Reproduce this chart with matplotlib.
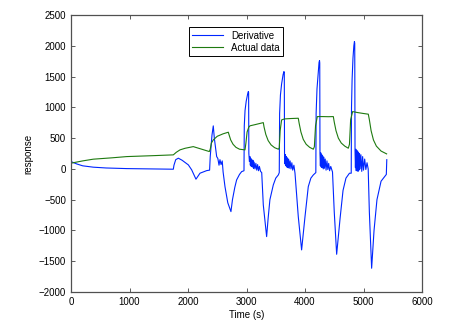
import matplotlib
matplotlib.use("Agg")
import matplotlib.pyplot as plt

plt.rcParams['font.family'] = ['Liberation Sans', 'DejaVu Sans']

# values (time in s, response)
actual_t = [0, 200, 381, 700, 952, 1400, 1749, 1800, 1863, 1950, 2090, 2200, 2364,
            2380, 2400, 2432, 2500, 2600, 2689, 2700, 2730, 2770, 2820, 2880, 2974,
            2990, 3010, 3040, 3060, 3150, 3287, 3300, 3330, 3370, 3420, 3480, 3544,
            3560, 3575, 3600, 3650, 3750, 3885, 3900, 3930, 3970, 4020, 4080, 4142,
            4160, 4180, 4210, 4300, 4400, 4484, 4500, 4530, 4570, 4620, 4680, 4740,
            4760, 4780, 4814, 4900, 5000, 5082, 5100, 5130, 5170, 5220, 5300, 5395]
actual_v = [93, 130, 158, 180, 200, 215, 228, 270, 309, 335, 362, 330, 282,
            320, 420, 471, 530, 570, 596, 560, 470, 400, 350, 320, 309,
            420, 600, 680, 700, 720, 752, 680, 560, 460, 390, 345, 320,
            340, 620, 796, 812, 818, 823, 740, 600, 480, 400, 350, 320,
            360, 700, 850, 850, 848, 850, 760, 620, 500, 420, 370, 336,
            400, 800, 931, 915, 900, 889, 800, 620, 470, 370, 290, 244]

deriv_t = [0, 100, 200, 381, 600, 952, 1300, 1749, 1760, 1790, 1835, 1900, 2006,
           2063, 2136, 2205, 2319, 2369,
           2380, 2410, 2432, 2450, 2490, 2510, 2530, 2546, 2565, 2585, 2600, 2632,
           2680, 2734, 2760, 2800, 2831, 2880, 2917, 2957,
           2962, 2975, 2995, 3020, 3031, 3036, 3040, 3050, 3058, 3066, 3074, 3082,
           3090, 3100, 3110, 3120, 3130, 3145, 3160, 3175, 3190, 3205, 3220, 3240,
           3260, 3287, 3344, 3370, 3400, 3458, 3500, 3544, 3560,
           3566, 3580, 3600, 3625, 3640, 3646, 3650, 3658, 3666, 3674, 3682, 3690,
           3700, 3710, 3720, 3730, 3745, 3760, 3775, 3790, 3810, 3829, 3885, 3942,
           4000, 4056, 4100, 4142, 4185,
           4190, 4205, 4225, 4240, 4248, 4252, 4256, 4263, 4270, 4278, 4286, 4294,
           4302, 4312, 4322, 4332, 4345, 4360, 4375, 4390, 4405, 4420, 4440, 4470,
           4500, 4541, 4600, 4650, 4700, 4760, 4790,
           4795, 4805, 4820, 4835, 4845, 4850, 4855, 4862, 4869, 4876, 4883, 4890,
           4898, 4906, 4914, 4922, 4932, 4942, 4955, 4970, 4985, 5000, 5020, 5040,
           5060, 5080, 5100, 5139, 5180, 5230, 5300, 5390, 5398]
deriv_v = [119, 80, 50, 28, 15, 5, 0, -5, 60, 150, 174, 140, 65,
           -16, -167, -70, -28, -20,
           200, 550, 699, 500, 200, 170, 60, 150, 70, 130, -50, -288,
           -550, -694, -500, -300, -179, -90, -44, -30,
           700, 950, 1100, 1220, 1256, 1240, 250, 120, 200, 60, 170, 40,
           150, 30, 140, 10, 110, 0, 90, -20, 70, -30, 40, -40,
           -60, -585, -1100, -800, -500, -260, -150, -98, -60,
           900, 1200, 1380, 1530, 1581, 1560, 250, 80, 230, 50, 200, 30,
           180, 20, 160, 10, 130, 0, 100, -20, 60, -70, -775, -1316,
           -775, -288, -150, -98, -60,
           900, 1300, 1550, 1730, 1760, 1720, 250, 50, 260, 30, 230, 20,
           210, 0, 190, 10, 160, -20, 130, -10, 90, -30, 40, -50,
           -700, -1387, -800, -350, -150, -70, -70,
           1000, 1450, 1800, 2000, 2069, 2040, 300, 20, 320, -30, 300, 0,
           290, -40, 270, -20, 250, 0, 230, -40, 200, -20, 160, -10,
           100, 0, -700, -1614, -1000, -500, -200, -90, 150]

fig = plt.figure(figsize=(4.59, 3.33), dpi=100)
ax = fig.add_axes([0.1547, 0.1231, 0.7647, 0.8318])

ax.plot(deriv_t, deriv_v, color='#0026ff', lw=0.8, label='Derivative')
ax.plot(actual_t, actual_v, color='#1e7a10', lw=0.8, label='Actual data')

ax.set_xlim(0, 6000)
ax.set_ylim(-2000, 2500)
ax.set_xticks(range(0, 6001, 1000))
ax.set_yticks(range(-2000, 2501, 500))
ax.tick_params(direction='in', top=True, right=True, labelsize=7, length=3,
               width=0.6, color='#404040')
for s in ax.spines.values():
    s.set_color('#505050')
    s.set_linewidth(0.9)

ax.set_xlabel('Time (s)', fontsize=7, labelpad=2)
ax.set_ylabel('response', fontsize=7, labelpad=4)

leg = ax.legend(loc='upper left', bbox_to_anchor=(0.336, 0.955), fontsize=7,
                fancybox=False, framealpha=1, edgecolor='black',
                handlelength=3.2, borderpad=0.35, labelspacing=0.2,
                borderaxespad=0)
leg.get_frame().set_linewidth(0.7)

fig.savefig('out.png', dpi=100)
